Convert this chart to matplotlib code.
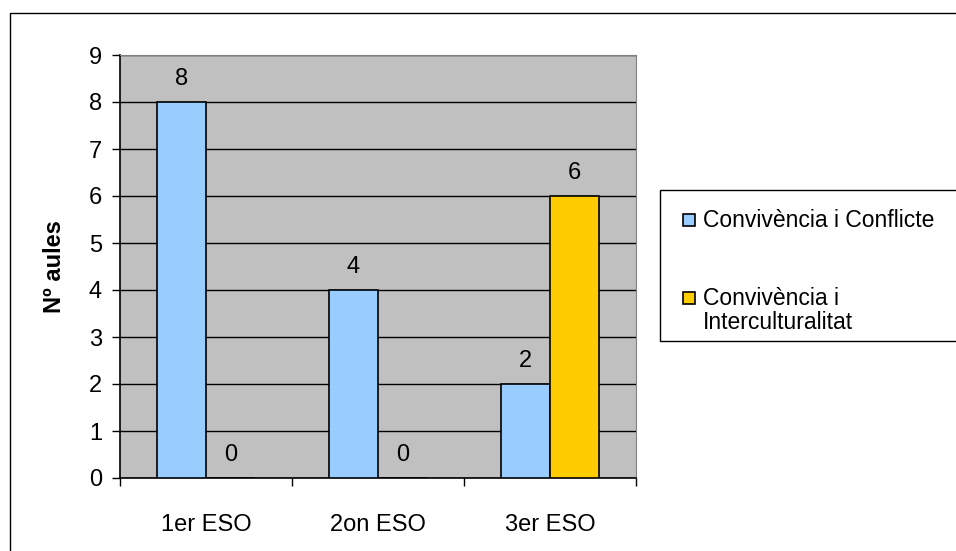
import matplotlib.pyplot as plt
from matplotlib.patches import Rectangle
from matplotlib.lines import Line2D
import numpy as np

plt.rcParams['font.family'] = ['Liberation Sans', 'DejaVu Sans']

# Data
cursos = ['1er ESO', '2on ESO', '3er ESO']
conflicte = [8, 4, 2]
intercult = [0, 0, 6]
series_names = ['Convivència i Conflicte', 'Convivència i\nInterculturalitat']
colors = ['#99CCFF', '#FFCC00']

W, H = 956, 551
fig = plt.figure(figsize=(W / 100, H / 100), dpi=100)

# outer chart border (only top/left visible in the picture)
fig.patches.append(Rectangle((10 / W, -0.1), 1.2, 1 - 13 / H + 0.1, transform=fig.transFigure,
                             fill=False, edgecolor='black', lw=1.0, zorder=0))

ax = fig.add_axes([120 / W, 1 - 478 / H, (636 - 120) / W, (478 - 55) / H])
ax.set_facecolor('#C0C0C0')

x = np.arange(len(cursos))
w = 1 / 3.5
ax.bar(x - w / 2, conflicte, w, color=colors[0], edgecolor='black', lw=1.2, zorder=3)
ax.bar(x + w / 2, intercult, w, color=colors[1], edgecolor='black', lw=1.2, zorder=3)

fs = 17
for xi, v in zip(x - w / 2, conflicte):
    ax.annotate(str(v), (xi, v), xytext=(0, 16.5), textcoords='offset points',
                ha='center', va='center', fontsize=fs)
for xi, v in zip(x + w / 2, intercult):
    ax.annotate(str(v), (xi, v), xytext=(0, 16.5), textcoords='offset points',
                ha='center', va='center', fontsize=fs)

ax.set_xlim(-0.5, 2.5)
ax.set_ylim(0, 9)
ax.set_yticks(range(10))
ax.yaxis.grid(True, color='black', lw=1.0, zorder=1)
ax.set_axisbelow(True)

ax.set_xticks([-0.5, 0.5, 1.5, 2.5])
ax.set_xticklabels([])
ax.set_xticks(x, minor=True)
ax.set_xticklabels(cursos, minor=True, fontsize=fs)
ax.tick_params(axis='x', which='minor', length=0, pad=26)
ax.tick_params(axis='x', which='major', length=6, width=1.0, direction='out')
ax.tick_params(axis='y', length=6, width=1.0, direction='out', labelsize=fs, pad=7)

ax.spines['top'].set_color('#808080')
ax.spines['right'].set_color('#808080')
ax.spines['left'].set_linewidth(1.2)
ax.spines['bottom'].set_linewidth(1.2)

ax.set_ylabel('Nº aules', fontsize=fs, fontweight='bold', labelpad=16)

# legend box
fig.patches.append(Rectangle((660 / W, 1 - 341 / H), 0.5, (341 - 190) / H, transform=fig.transFigure,
                             fill=True, facecolor='white', edgecolor='black', lw=1.0, zorder=2))
leg_y = [220, 298]
for name, col, yy in zip(series_names, colors, leg_y):
    fig.add_artist(Line2D([689 / W], [1 - yy / H], marker='s', markersize=8.5,
                          markerfacecolor=col, markeredgecolor='black', markeredgewidth=1.2,
                          transform=fig.transFigure, zorder=3))
    fig.text(703 / W, 1 - (yy - 11) / H, name, fontsize=16.5, va='top', ha='left',
             linespacing=1.05, zorder=3)

fig.savefig('out.png', dpi=100)
